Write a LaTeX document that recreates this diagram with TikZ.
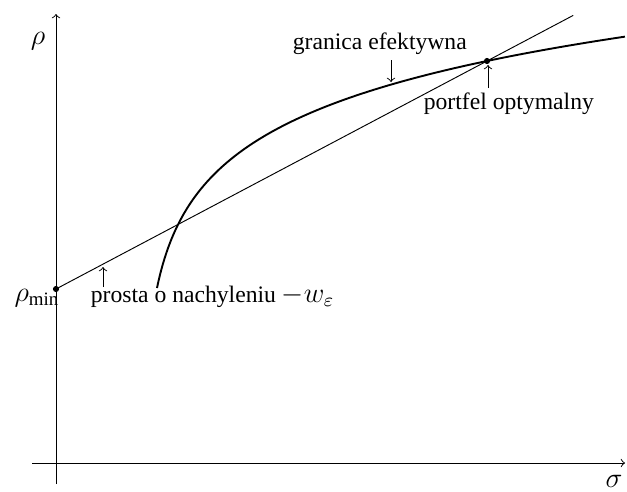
\documentclass[tikz,border=0pt]{standalone}
\usepackage{fontspec}
\setmainfont{Liberation Serif}
\usetikzlibrary{calc}

\newcommand{\bigmath}[1]{{\fontsize{12}{14.4}\selectfont$#1$}}

\begin{document}
\begin{tikzpicture}[
  x=0.423pt, y=-0.423pt,
  axis/.style     = {->, >=to},
  frontier/.style = {thick},
  note/.style     = {->, >=to},
  lbl/.style      = {inner sep=1pt}
]
\useasboundingbox (0,0) rectangle (627,491);

% axes
\coordinate (origin) at (56,463);
\draw[axis] (32,463) -- (625,463);
\draw[axis] (56,484) -- (56,14);
\node[lbl] (rho)   at (38,41)  {\bigmath{\rho}};
\node[lbl] (sigma) at (614,481) {\bigmath{\sigma}};

% efficient frontier
\draw[frontier] plot[domain=0:3.472, samples=120, variable=\t]
  ({157+15*(exp(\t)-1)}, {288-72.4*\t});

% line through rho_min and the optimal portfolio
\coordinate (rhomin) at (56,289);
\coordinate (opt)    at (487,61);
\draw (rhomin) -- ($(rhomin)!1.2!(opt)$);
\fill (rhomin) circle (1.3pt);
\fill (opt)    circle (1.3pt);

% labels
\node[lbl] (rhominlbl) at (37,298)  {\bigmath{\rho_{\min}}};
\node[lbl, anchor=west] (granica) at (290,44)  {granica efektywna};
\node[lbl, anchor=west] (portfel) at (421,104) {portfel optymalny};
\node[lbl, anchor=west] (prosta)  at (88,297)  {prosta o nachyleniu \bigmath{-w_\varepsilon}};

\coordinate (gtail) at (391,60);  \coordinate (gtip) at (391,82);
\coordinate (ptail) at (488,88);  \coordinate (ptip) at (488,65);
\coordinate (ltail) at (103,287); \coordinate (ltip) at (103,267);
\draw[note] (gtail) -- (gtip);
\draw[note] (ptail) -- (ptip);
\draw[note] (ltail) -- (ltip);
\end{tikzpicture}
\end{document}
